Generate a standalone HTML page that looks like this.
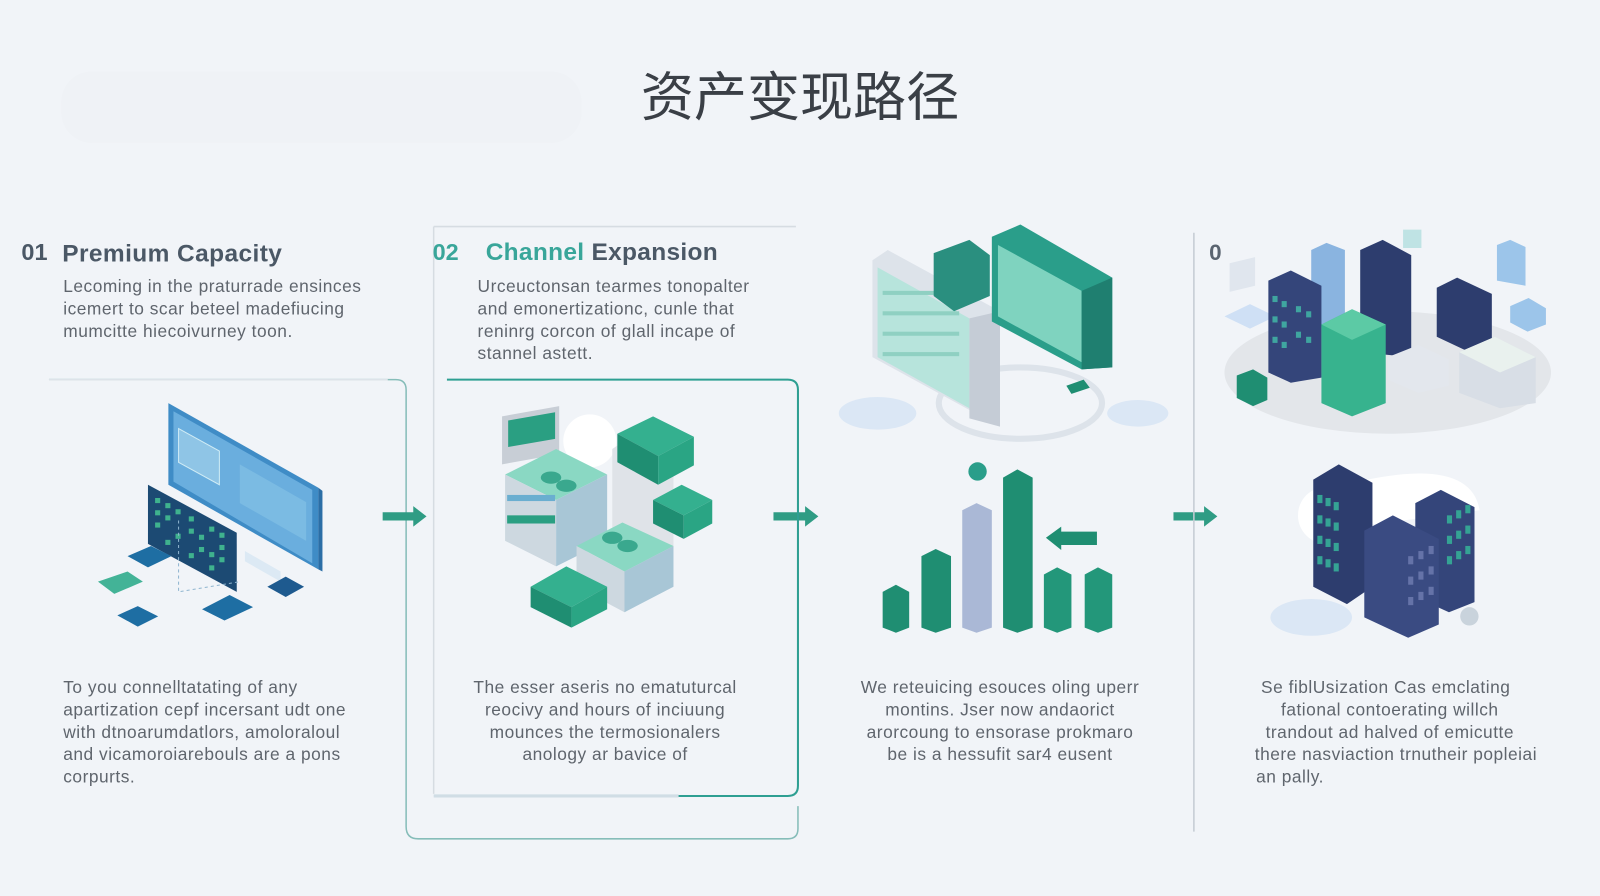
<!DOCTYPE html>
<html><head><meta charset="utf-8"><style>
html,body{margin:0;padding:0;background:#f1f4f8;}
svg{display:block}
text{font-family:"Liberation Sans","Noto Sans CJK SC",sans-serif;}
</style></head><body>
<svg width="1600" height="896" viewBox="0 0 1568 878" xmlns="http://www.w3.org/2000/svg">
<rect width="1568" height="878" fill="#f1f4f8"/>
<rect x="60" y="70" width="510" height="70" rx="30" fill="#eff2f6"/>
<text x="784" y="113" text-anchor="middle" font-size="52" fill="#3a3f46" font-family="Liberation Sans,Noto Sans CJK SC,sans-serif">资产变现路径</text>

<!-- column 1 -->
<text x="21" y="255" font-size="23" font-weight="bold" fill="#4b5866">01</text>
<text x="61" y="256" font-size="24" font-weight="bold" fill="#4b5866" letter-spacing="0.4">Premium Capacity</text>
<g font-size="17" fill="#5f656d" letter-spacing="0.5">
<text x="62" y="286">Lecoming in the praturrade ensinces</text>
<text x="62" y="308">icemert to scar beteel madefiucing</text>
<text x="62" y="330">mumcitte hiecoivurney toon.</text>
<text x="62" y="679">To you connelltatating of any</text>
<text x="62" y="701">apartization cepf incersant udt one</text>
<text x="62" y="723">with dtnoarumdatlors, amoloraloul</text>
<text x="62" y="745">and vicamoroiarebouls are a pons</text>
<text x="62" y="767">corpurts.</text>
</g>
<path d="M48 372 H388 Q398 372 398 382 V810 Q398 822 410 822 H772 Q782 822 782 812 V790" fill="none" stroke="#86bdb9" stroke-width="1.5"/>
<path d="M48 372 H380" stroke="#dde3e9" stroke-width="1.6"/>

<!-- col1 illustration -->
<polygon points="165,395 312,478 312,558 165,475" fill="#3f8cc6"/>
<polygon points="170,403 306,480 306,552 170,472" fill="#6aaede"/>
<polygon points="312,478 316,481 316,560 312,558" fill="#2b6ea6"/>
<polygon points="175,420 215,442 215,475 175,453" fill="#8fc5e6" stroke="#d0ecf5"/>
<polygon points="235,455 300,492 300,530 235,493" fill="#7bbbe3"/>
<polygon points="240,540 275,560 275,570 240,550" fill="#dce9f4"/>
<polygon points="145,475 232,522 232,580 145,533" fill="#1c4a73"/>
<g fill="#3fb28e">
<rect x="152" y="488" width="5" height="5"/><rect x="162" y="493" width="5" height="5"/><rect x="172" y="499" width="5" height="5"/><rect x="185" y="506" width="5" height="5"/><rect x="205" y="516" width="5" height="5"/><rect x="215" y="522" width="5" height="5"/>
<rect x="152" y="500" width="5" height="5"/><rect x="162" y="505" width="5" height="5"/><rect x="185" y="518" width="5" height="5"/><rect x="195" y="524" width="5" height="5"/><rect x="215" y="534" width="5" height="5"/>
<rect x="152" y="512" width="5" height="5"/><rect x="172" y="523" width="5" height="5"/><rect x="195" y="536" width="5" height="5"/><rect x="205" y="541" width="5" height="5"/><rect x="215" y="546" width="5" height="5"/>
<rect x="162" y="529" width="5" height="5"/><rect x="185" y="542" width="5" height="5"/><rect x="205" y="554" width="5" height="5"/>
</g>
<polygon points="125,545 148,535 168,545 145,556" fill="#1e6ea3"/>
<polygon points="96,570 125,560 140,570 112,582" fill="#43b397"/>
<polygon points="115,603 135,594 155,604 135,614" fill="#1e6ea3"/>
<polygon points="198,597 225,583 248,595 220,608" fill="#1e6ea3"/>
<polygon points="262,575 280,565 298,575 280,585" fill="#1e5a8f"/>
<path d="M175 510 V580 L235 570" fill="none" stroke="#8fb5cf" stroke-dasharray="3 3"/>

<!-- arrows -->
<g fill="#2f9c84">
<path d="M375 502 H405 V496 L418 506 L405 516 V510 H375 Z"/>
<path d="M758 502 H789 V496 L802 506 L789 516 V510 H758 Z"/>
<path d="M1150 502 H1180 V496 L1193 506 L1180 516 V510 H1150 Z"/>
</g>

<!-- column 2 -->
<path d="M425 222 H780" stroke="#d6dce2" stroke-width="1.5"/>
<path d="M425 222 V778" stroke="#d6dce2" stroke-width="1.5"/>
<path d="M425 780 H665" stroke="#d0dde5" stroke-width="3"/>
<path d="M438 372 H772 Q782 372 782 382 V770 Q782 780 772 780 H665" fill="none" stroke="#2e9f92" stroke-width="2"/>
<text x="424" y="255" font-size="23" font-weight="bold" fill="#39a69a">02</text>
<text x="476" y="255" font-size="24" font-weight="bold" fill="#39a69a" letter-spacing="0.3">Channel <tspan fill="#4b5866">Expansion</tspan></text>
<g font-size="17" fill="#5f656d" letter-spacing="0.5">
<text x="468" y="286">Urceuctonsan tearmes tonopalter</text>
<text x="468" y="308">and emonertizationc, cunle that</text>
<text x="468" y="330">reninrg corcon of glall incape of</text>
<text x="468" y="352">stannel astett.</text>
</g>
<g font-size="17" fill="#5f656d" text-anchor="middle" letter-spacing="0.5">
<text x="593" y="679">The esser aseris no ematuturcal</text>
<text x="593" y="701">reocivy and hours of inciuung</text>
<text x="593" y="723">mounces the termosionalers</text>
<text x="593" y="745">anology ar bavice of</text>
</g>
<!-- col2 illustration -->
<circle cx="578" cy="432" r="26" fill="#ffffff"/>
<polygon points="492,408 548,398 548,445 492,455" fill="#c8ced6"/>
<polygon points="498,412 544,404 544,430 498,438" fill="#2a9f82"/>
<polygon points="600,440 630,420 660,440 660,560 630,580 600,560" fill="#dfe3e8"/>
<polygon points="605,425 640,408 680,428 645,447" fill="#34b08f"/>
<polygon points="605,425 645,447 645,475 605,453" fill="#1f8e72"/>
<polygon points="645,447 680,428 680,456 645,475" fill="#2aa584"/>
<polygon points="640,490 668,475 698,490 670,505" fill="#34b08f"/>
<polygon points="640,490 670,505 670,528 640,513" fill="#1f8e72"/>
<polygon points="670,505 698,490 698,513 670,528" fill="#2aa584"/>
<polygon points="495,465 545,440 595,465 545,490" fill="#8ad8c3"/>
<polygon points="495,465 545,490 545,555 495,530" fill="#cdd8e0"/>
<polygon points="545,490 595,465 595,530 545,555" fill="#a8c6d6"/>
<rect x="497" y="485" width="47" height="6" fill="#6aaed0"/><rect x="497" y="505" width="47" height="8" fill="#2a9f82"/>
<ellipse cx="540" cy="468" rx="10" ry="6" fill="#3aa88e"/><ellipse cx="555" cy="476" rx="10" ry="6" fill="#3aa88e"/>
<polygon points="565,535 610,512 660,535 612,560" fill="#8ad8c3"/>
<polygon points="565,535 612,560 612,600 565,575" fill="#cdd8e0"/>
<polygon points="612,560 660,535 660,575 612,600" fill="#a8c6d6"/>
<ellipse cx="600" cy="527" rx="10" ry="6" fill="#3aa88e"/><ellipse cx="615" cy="535" rx="10" ry="6" fill="#3aa88e"/>
<polygon points="520,575 555,555 595,575 560,595" fill="#34b08f"/>
<polygon points="520,575 560,595 560,615 520,595" fill="#1f8e72"/>
<polygon points="560,595 595,575 595,597 560,615" fill="#2aa584"/>

<!-- column 3 illustration -->
<ellipse cx="1000" cy="395" rx="80" ry="35" fill="none" stroke="#dde3ea" stroke-width="6"/>
<ellipse cx="860" cy="405" rx="38" ry="16" fill="#dbe7f5"/>
<ellipse cx="1115" cy="405" rx="30" ry="13" fill="#dbe7f5"/>
<polygon points="855,255 870,245 980,305 980,418 855,350" fill="#dde3ea"/>
<polygon points="860,262 950,312 950,400 860,350" fill="#b7e4dc"/>
<g fill="#8fd0c2"><rect x="865" y="285" width="75" height="4"/><rect x="865" y="305" width="75" height="4"/><rect x="865" y="325" width="75" height="4"/><rect x="865" y="345" width="75" height="4"/></g>
<polygon points="950,312 980,305 980,418 950,410" fill="#c5ccd6"/>
<polygon points="915,248 950,235 970,250 970,290 935,305 915,290" fill="#2a8f7f"/>
<polygon points="972,232 1000,220 1090,272 1090,360 1060,362 972,315" fill="#2a9e8a"/>
<polygon points="978,240 1060,285 1060,355 978,310" fill="#7fd3bf"/>
<polygon points="1060,285 1090,272 1090,360 1060,362" fill="#1f7f70"/>
<polygon points="1045,378 1062,372 1068,380 1050,386" fill="#1f8e72"/>
<circle cx="958" cy="462" r="9" fill="#2a9e8a"/>
<g>
<polygon points="865,580 878,573 891,580 891,615 878,620 865,615" fill="#1f8e72"/>
<polygon points="903,545 917,538 932,545 932,615 917,620 903,615" fill="#1f8e72"/>
<polygon points="943,500 957,493 972,500 972,615 957,620 943,615" fill="#aab8d6"/>
<polygon points="983,468 997,460 1012,468 1012,615 997,620 983,615" fill="#1f8e72"/>
<polygon points="1023,563 1036,556 1050,563 1050,615 1036,620 1023,615" fill="#23977a"/>
<polygon points="1063,563 1076,556 1090,563 1090,615 1076,620 1063,615" fill="#23977a"/>
<path d="M1025 527 L1040 516 V521 H1075 V534 H1040 V539 Z" fill="#1f8e72"/>
</g>
<g font-size="17" fill="#5f656d" text-anchor="middle" letter-spacing="0.5">
<text x="980" y="679">We reteuicing esouces oling uperr</text>
<text x="980" y="701">montins. Jser now andaorict</text>
<text x="980" y="723">arorcoung to ensorase prokmaro</text>
<text x="980" y="745">be is a hessufit sar4 eusent</text>
</g>

<!-- divider -->
<path d="M1170 228 V815" stroke="#c5ccd3" stroke-width="1.5"/>

<!-- column 4 -->
<text x="1185" y="255" font-size="22" font-weight="bold" fill="#5a6470">0</text>
<ellipse cx="1360" cy="365" rx="160" ry="60" fill="#e3e6ea"/>
<polygon points="1200,310 1225,298 1250,310 1225,322" fill="#cfe0f5"/>
<polygon points="1205,258 1230,252 1230,280 1205,286" fill="#e0e6ee"/>
<polygon points="1285,245 1300,238 1318,245 1318,320 1285,320" fill="#8ab4e0"/>
<polygon points="1333,245 1355,235 1383,250 1383,350 1333,345" fill="#2d3d6e"/>
<polygon points="1243,275 1265,265 1295,280 1295,370 1265,375 1243,365" fill="#34457a"/>
<g fill="#3fa5a0"><rect x="1247" y="290" width="5" height="6"/><rect x="1256" y="295" width="5" height="6"/><rect x="1247" y="310" width="5" height="6"/><rect x="1256" y="315" width="5" height="6"/><rect x="1247" y="330" width="5" height="6"/><rect x="1256" y="335" width="5" height="6"/><rect x="1270" y="300" width="5" height="6"/><rect x="1280" y="305" width="5" height="6"/><rect x="1270" y="325" width="5" height="6"/><rect x="1280" y="330" width="5" height="6"/></g>
<polygon points="1295,318 1325,303 1358,318 1358,395 1325,408 1295,395" fill="#37b38e"/>
<polygon points="1295,318 1325,303 1358,318 1325,333" fill="#5ccaa5"/>
<polygon points="1408,282 1428,272 1462,288 1462,338 1440,345 1408,330" fill="#2d3d6e"/>
<polygon points="1360,350 1390,338 1420,352 1420,378 1390,385 1360,372" fill="#e3e7ed"/>
<polygon points="1430,345 1465,330 1505,350 1505,395 1470,400 1430,385" fill="#d8dee6"/>
<polygon points="1430,345 1465,330 1505,350 1470,365" fill="#e9f1ee"/>
<polygon points="1467,240 1480,235 1495,242 1495,280 1467,275" fill="#9cc5ea"/>
<polygon points="1480,300 1498,292 1515,302 1515,318 1497,325 1480,316" fill="#9cc5ea"/>
<polygon points="1212,368 1228,362 1242,370 1242,392 1228,398 1212,390" fill="#1f8e72"/>
<rect x="1375" y="225" width="18" height="18" fill="#bfe3e4"/>
<circle cx="1300" cy="505" r="28" fill="#ffffff"/>
<path d="M1300 480 Q1440 440 1450 500 L1300 520 Z" fill="#ffffff"/>
<ellipse cx="1285" cy="605" rx="40" ry="18" fill="#dbe7f5"/>
<polygon points="1287,470 1312,455 1345,473 1345,575 1320,592 1287,575" fill="#2d3d6e"/>
<polygon points="1387,493 1412,480 1445,497 1445,590 1420,600 1387,585" fill="#34457a"/>
<polygon points="1337,520 1365,505 1410,528 1410,612 1380,625 1337,605" fill="#3a4b82"/>
<g fill="#35a394">
<rect x="1291" y="485" width="5" height="8"/><rect x="1299" y="488" width="5" height="8"/><rect x="1307" y="492" width="5" height="8"/>
<rect x="1291" y="505" width="5" height="8"/><rect x="1299" y="508" width="5" height="8"/><rect x="1307" y="512" width="5" height="8"/>
<rect x="1291" y="525" width="5" height="8"/><rect x="1299" y="528" width="5" height="8"/><rect x="1307" y="532" width="5" height="8"/>
<rect x="1291" y="545" width="5" height="8"/><rect x="1299" y="548" width="5" height="8"/><rect x="1307" y="552" width="5" height="8"/>
<rect x="1418" y="505" width="5" height="8"/><rect x="1427" y="500" width="5" height="8"/><rect x="1436" y="495" width="5" height="8"/>
<rect x="1418" y="525" width="5" height="8"/><rect x="1427" y="520" width="5" height="8"/><rect x="1436" y="515" width="5" height="8"/>
<rect x="1418" y="545" width="5" height="8"/><rect x="1427" y="540" width="5" height="8"/><rect x="1436" y="535" width="5" height="8"/>
</g>
<g fill="#6573a8">
<rect x="1380" y="545" width="5" height="8"/><rect x="1390" y="540" width="5" height="8"/><rect x="1400" y="535" width="5" height="8"/>
<rect x="1380" y="565" width="5" height="8"/><rect x="1390" y="560" width="5" height="8"/><rect x="1400" y="555" width="5" height="8"/>
<rect x="1380" y="585" width="5" height="8"/><rect x="1390" y="580" width="5" height="8"/><rect x="1400" y="575" width="5" height="8"/>
</g>
<circle cx="1440" cy="604" r="9" fill="#c9d3dc"/>
<g font-size="17" fill="#5f656d" text-anchor="middle" letter-spacing="0.5">
<text x="1358" y="679">Se fiblUsization Cas emclating</text>
<text x="1362" y="701">fational contoerating willch</text>
<text x="1362" y="723">trandout ad halved of emicutte</text>
<text x="1368" y="745">there nasviaction trnutheir popleiai</text>
</g>
<text x="1231" y="767" font-size="17" fill="#5f656d" letter-spacing="0.5">an pally.</text>
</svg>
</body></html>
